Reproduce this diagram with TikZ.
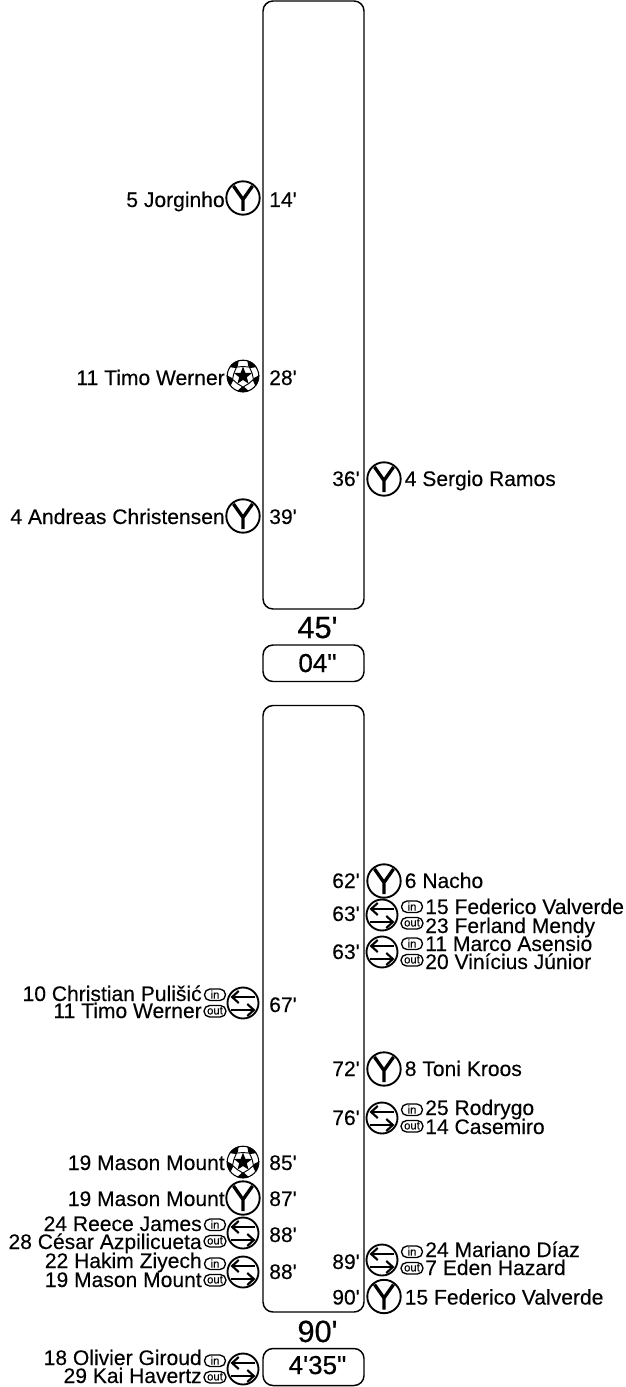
\documentclass[tikz,border=0pt]{standalone}
\usepackage{fontspec}
\setmainfont{Liberation Sans}[Ligatures=TeXOff,FakeBold=0.25]
\newfontfamily\heavyfont{Liberation Sans}[Ligatures=TeXOff,FakeBold=0.6]
\usetikzlibrary{arrows.meta}
\tikzset{
  x=0.75pt,y=-0.75pt,
  lbl/.style={inner sep=0pt,font=\fontsize{15.8}{16}\selectfont},
  lft/.style={lbl,anchor=base east},
  rgt/.style={lbl,anchor=base west},
  frame/.style={draw=black,line width=1.1pt,rounded corners=7.5pt},
  big/.style={inner sep=0pt,anchor=base,font=\heavyfont\fontsize{23}{24}\selectfont},
  med/.style={inner sep=0pt,anchor=base,font=\heavyfont\fontsize{19.5}{20}\selectfont},
  ring/.style={draw=black,line width=1.4pt},
  pill/.style={draw=black,line width=1pt,rounded corners=4.2pt},
  sw/.style={line width=1.6pt,-{Straight Barb[length=5pt,width=9pt]}},
  tiny/.style={inner sep=0pt,font=\fontsize{8.5}{9}\selectfont},
  pics/card/.style={code={
    \draw[ring] (0,0) circle (16.7);
    \draw[line width=2.5pt] (-9.5,-12) -- (0,1.5) -- (9.5,-12) (0,1.5) -- (0,13);
  }},
  pics/sub/.style={code={
    \draw[ring] (0,0) circle (15.5);
    \draw[sw] (12,-6) -- (-12.5,-6);
    \draw[sw] (-12,7) -- (12.5,7);
  }},
  pics/inout/.style={code={
    \draw[pill] (-10.5,-14) rectangle (10.5,-2.5);
    \draw[pill] (-11,2.5) rectangle (11,14);
    \node[tiny] at (0,-8.5) {in};
    \node[tiny] at (0,7.8) {out};
  }},
  pics/ball/.style={code={
    \draw[line width=0.8pt] (0,0) circle (15.8);
    % y runs downward here, so the angles are mirrored: 270 is the top
    \fill (270:9.5) -- (306:4) -- (342:9.5) -- (18:4) -- (54:9.5) -- (90:4) -- (126:9.5) -- (162:4) -- (198:9.5) -- (234:4) -- cycle;
    \foreach \a in {0,72,144,216,288}{
      \fill ({\a+306-21}:16.3) arc ({\a+306-21}:{\a+306+21}:16.3) -- ({\a+306+7}:11) -- ({\a+306-7}:11) -- cycle;
      \draw[line width=0.7pt] ({\a+306}:11) -- ({\a+270}:9.5) -- ({\a+234}:11);
    }
  }}
}
% name, centre y, text, icon, minute, baseline y
\newcommand{\Lone}[6]{%
  \node[lft] (#1t) at (225,#6) {#3};
  \pic at (243,#2) {#4};
  \node[rgt] (#1m) at (269,#6) {#5};
}
\newcommand{\Rone}[6]{%
  \node[lft] (#1m) at (360,#6) {#5};
  \pic at (384,#2) {#4};
  \node[rgt] (#1t) at (404.5,#6) {#3};
}
% name, centre y, base 1, base 2, in, out, minute, minute base
\newcommand{\Lsub}[8]{%
  \node[lft] (#1a) at (202,#3) {#5};
  \node[lft] (#1b) at (202,#4) {#6};
  \pic at (215,#2) {inout};
  \pic at (243,#2) {sub};
  \node[rgt] (#1m) at (269,#8) {#7};
}
\newcommand{\Rsub}[8]{%
  \node[lft] (#1m) at (360,#8) {#7};
  \pic at (382,#2) {sub};
  \pic at (412,#2) {inout};
  \node[rgt] (#1a) at (425,#3) {#5};
  \node[rgt] (#1b) at (425,#4) {#6};
}
\begin{document}
\begin{tikzpicture}
\useasboundingbox (0,0) rectangle (625,1387);
\draw[frame] (263,1) rectangle (364,609);
\node[big] (ht) at (317.5,638) {45'};
\draw[frame] (263,645) rectangle (364,681.5);
\node[med] (hta) at (317.5,672) {04"};
\draw[frame] (263,705.5) rectangle (364,1312);
\node[big] (ft) at (317.5,1342) {90'};
\draw[frame] (263,1348.5) rectangle (364,1385.5);
\node[med] (fta) at (317.5,1374) {4'35"};

\Lone{a}{198}{5 Jorginho}{card}{14'}{207}
\Lone{b}{376}{11 Timo Werner}{ball}{28'}{385}
\Lone{c}{516}{4 Andreas Christensen}{card}{39'}{524}
\Rone{d}{479}{4 Sergio Ramos}{card}{36'}{486}

\Rone{e}{881}{6 Nacho}{card}{62'}{888}
\Rsub{f}{915}{914}{933}{15 Federico Valverde}{23 Ferland Mendy}{63'}{921}
\Rsub{g}{952}{951}{969}{11 Marco Asensio}{20 Vinícius Júnior}{63'}{959}
\Rone{h}{1069}{8 Toni Kroos}{card}{72'}{1076}
\Rsub{i}{1118}{1115}{1134}{25 Rodrygo}{14 Casemiro}{76'}{1125}
\Rsub{j}{1260}{1257}{1275}{24 Mariano Díaz}{7 Eden Hazard}{89'}{1269}
\Rone{k}{1296.5}{15 Federico Valverde}{card}{90'}{1304.5}

\Lsub{l}{1003}{1001}{1018}{10 Christian Pulišić}{11 Timo Werner}{67'}{1012}
\Lone{m}{1162}{19 Mason Mount}{ball}{85'}{1170}
\Lone{n}{1198}{19 Mason Mount}{card}{87'}{1206}
\Lsub{o}{1233}{1231}{1249}{24 Reece James}{28 César Azpilicueta}{88'}{1242}
\Lsub{p}{1272}{1268}{1287}{22 Hakim Ziyech}{19 Mason Mount}{88'}{1279}
\Lsub{q}{1369}{1365}{1383}{18 Olivier Giroud}{29 Kai Havertz}{}{1376}
\end{tikzpicture}
\end{document}
